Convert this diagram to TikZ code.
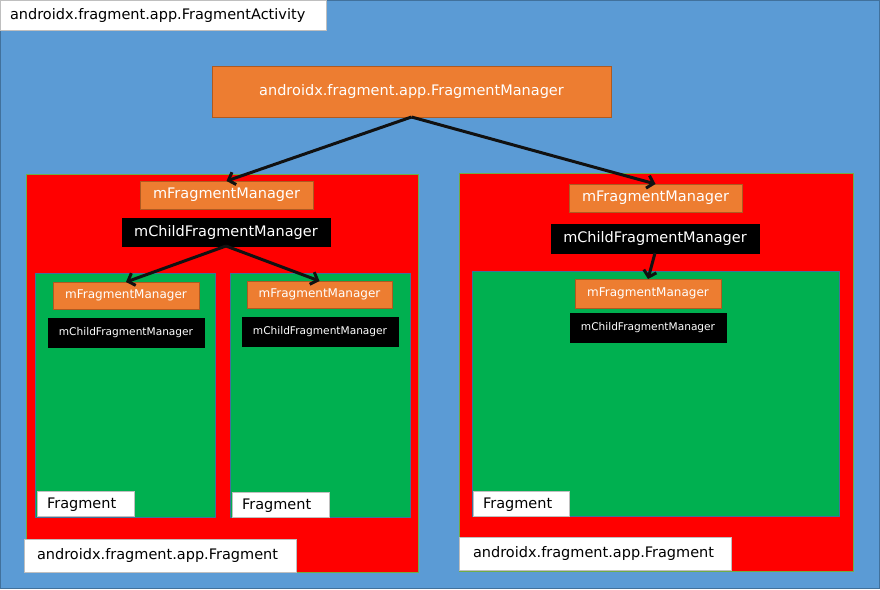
\documentclass[tikz,border=0pt]{standalone}
\usepackage{fontspec}
\setmainfont{DejaVu Sans}
\usetikzlibrary{arrows.meta}
\definecolor{bgblue}{HTML}{5B9BD5}
\definecolor{bgedge}{HTML}{41719C}
\definecolor{orng}{HTML}{ED7D31}
\definecolor{orngedge}{HTML}{AE5A21}
\definecolor{grn}{HTML}{00B050}
\definecolor{redbox}{HTML}{FF0000}
\definecolor{rededge}{HTML}{70AD47}
\definecolor{lbledge}{HTML}{BFBFBF}
\definecolor{arrowc}{HTML}{111111}
\tikzset{
  base/.style={anchor=north west, inner sep=0pt, outer sep=0pt, line width=0.8pt},
  bigfont/.style={font=\fontsize{14.5}{17}\selectfont},
  midfont/.style={font=\fontsize{12}{14}\selectfont},
  smallfont/.style={font=\fontsize{10.6}{12}\selectfont},
  orangebox/.style={base, fill=orng, draw=orngedge, text=white},
  blackbox/.style={base, fill=black, draw=black, text=white},
  redframe/.style={base, fill=redbox, draw=rededge},
  greenframe/.style={base, fill=grn, draw=bgedge, line width=0.5pt},
  label/.style={base, fill=white, draw=lbledge, text=black, align=left, bigfont},
  fraglabel/.style={label, minimum height=25pt, text width=77pt, inner xsep=10pt, text depth=0pt},
  conn/.style={draw=arrowc, line width=3pt, -{Straight Barb[length=6pt,width=13pt]}}
}
\begin{document}
\begin{tikzpicture}[x=1pt,y=-1pt]
\useasboundingbox (0,0) rectangle (880,589);
% background
\node[base, fill=bgblue, draw=bgedge, minimum width=879pt, minimum height=588pt] (bg) at (0.5,0.5) {};
\node[label, minimum height=30pt, text width=306pt, inner xsep=10pt] (title) at (0,0) {androidx.fragment.app.FragmentActivity};
% top manager
\node[orangebox, bigfont, minimum width=399pt, minimum height=51pt] (fm) at (212,66) {androidx.fragment.app.FragmentManager};
% left fragment
\node[redframe, minimum width=392pt, minimum height=398pt] (lred) at (26,174) {};
\node[orangebox, bigfont, minimum width=173pt, minimum height=28pt] (lfm) at (140,181) {mFragmentManager};
\node[blackbox, bigfont, minimum width=208pt, minimum height=28pt] (lcfm) at (122,218) {mChildFragmentManager};
\node[greenframe, minimum width=180pt, minimum height=244pt] (g1) at (35,273) {};
\node[greenframe, minimum width=180pt, minimum height=244pt] (g2) at (230,273) {};
\node[orangebox, midfont, minimum width=146pt, minimum height=27pt] (g1fm) at (53,282) {mFragmentManager};
\node[blackbox, smallfont, minimum width=156pt, minimum height=29pt] (g1cfm) at (48,318) {mChildFragmentManager};
\node[orangebox, midfont, minimum width=145pt, minimum height=27pt] (g2fm) at (247,281) {mFragmentManager};
\node[blackbox, smallfont, minimum width=156pt, minimum height=29pt] (g2cfm) at (242,317) {mChildFragmentManager};
\node[fraglabel] (g1lbl) at (37,491) {Fragment};
\node[fraglabel] (g2lbl) at (232,492) {Fragment};
\node[label, minimum height=33pt, text width=246pt, inner xsep=13pt] (llbl) at (24,539) {androidx.fragment.app.Fragment};
% right fragment
\node[redframe, minimum width=394pt, minimum height=398pt] (rred) at (459,173) {};
\node[orangebox, bigfont, minimum width=173pt, minimum height=28pt] (rfm) at (569,184) {mFragmentManager};
\node[blackbox, bigfont, minimum width=208pt, minimum height=29pt] (rcfm) at (551,224) {mChildFragmentManager};
\node[greenframe, minimum width=367pt, minimum height=245pt] (g3) at (472,271) {};
\node[orangebox, midfont, minimum width=146pt, minimum height=29pt] (g3fm) at (575,279) {mFragmentManager};
\node[blackbox, smallfont, minimum width=156pt, minimum height=29pt] (g3cfm) at (570,313) {mChildFragmentManager};
\node[fraglabel, text width=76pt] (g3lbl) at (473,491) {Fragment};
\node[label, minimum height=33pt, text width=244pt, inner xsep=14pt] (rlbl) at (459,537) {androidx.fragment.app.Fragment};
% connectors
\draw[conn] (fm.south) -- (lfm.north);
\draw[conn] (fm.south) -- (rfm.north);
\draw[conn] (lcfm.south) -- (g1fm.north);
\draw[conn] (lcfm.south) -- (g2fm.north);
\draw[conn] (rcfm.south) -- (g3fm.north);
\end{tikzpicture}
\end{document}
